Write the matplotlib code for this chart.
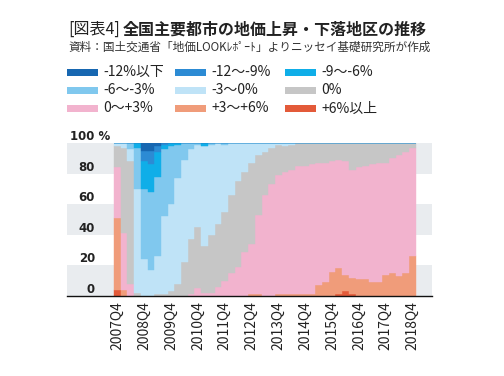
import matplotlib
matplotlib.use("Agg")
import matplotlib.pyplot as plt
from matplotlib.patches import Rectangle
import numpy as np

plt.rcParams['font.family'] = ['Noto Sans CJK JP', 'DejaVu Sans']

# quarters 2007Q4 .. 2018Q4
quarters = ["2007Q4"] + ["{}Q{}".format(y, q) for y in range(2008, 2019) for q in range(1, 5)]

# share of districts (%) per change class
up6 = [4, 0, 0, 0, 0, 0, 0, 0, 0, 0, 0, 0, 0, 0, 0, 0, 0, 0, 0, 0, 0, 0, 0,
       0, 0, 0, 0, 0, 0, 0, 0, 0, 0, 1.5, 3, 1.5, 0, 0, 0, 0, 0, 0, 0, 0, 0]
up3_6 = [47, 4, 0, 0, 0, 0, 0, 0, 0, 0, 0, 0, 0, 0, 0, 0, 0, 0, 0, 0, 1, 1, 0,
         0, 1, 1, 1, 1, 1, 1, 7, 9, 16, 16.5, 11, 10.5, 11, 11, 9, 9, 13.5, 15, 13, 15, 26]
up0_3 = [33, 37, 8, 0, 0, 0, 0, 0, 0, 0, 0, 1, 5, 2, 2, 6, 10, 15, 19, 29, 33, 52, 66,
         73, 78, 80, 81.5, 84, 84, 85, 80, 78, 72, 71, 74, 70.5, 73, 74, 77, 78, 73.5, 75, 79, 79, 71]
flat = [14, 56, 80, 2, 0, 0, 1, 1, 3, 8, 22, 36, 40, 31, 38, 41, 45, 51, 56, 52, 53, 39, 28,
        24, 19.5, 17, 16.5, 15, 15, 14, 13, 13, 12, 11, 12, 17.5, 16, 15, 14, 13, 13, 10, 8, 6, 3]
dn0_3 = [2, 3, 8, 68, 24, 17, 25, 51, 57, 69, 67, 59, 53.5, 65, 58.5, 53, 43.5, 34, 25, 19, 13, 8, 6,
         3, 1.5, 2, 1, 0, 0, 0, 0, 0, 0, 0, 0, 0, 0, 0, 0, 0, 0, 0, 0, 0, 0]
dn3_6 = [0, 0, 4, 27, 46, 51, 52, 44, 38, 22, 11, 4, 1.5, 0, 1.5, 0, 1.5, 0, 0, 0, 0, 0, 0,
         0, 0, 0, 0, 0, 0, 0, 0, 0, 0, 0, 0, 0, 0, 0, 0, 0, 0, 0, 0, 0, 0]
dn6_9 = [0, 0, 0, 3, 18, 18, 16, 3, 2, 1, 0, 0, 0, 2, 0, 0, 0, 0, 0, 0, 0, 0, 0,
         0, 0, 0, 0, 0, 0, 0, 0, 0, 0, 0, 0, 0, 0, 0, 0, 0, 0, 0, 0, 0, 0]
dn9_12 = [0, 0, 0, 0, 7, 9, 4, 1, 0, 0, 0, 0, 0, 0, 0, 0, 0, 0, 0, 0, 0, 0, 0,
          0, 0, 0, 0, 0, 0, 0, 0, 0, 0, 0, 0, 0, 0, 0, 0, 0, 0, 0, 0, 0, 0]
dn12 = [0, 0, 0, 0, 5, 5, 2, 0, 0, 0, 0, 0, 0, 0, 0, 0, 0, 0, 0, 0, 0, 0, 0,
        0, 0, 0, 0, 0, 0, 0, 0, 0, 0, 0, 0, 0, 0, 0, 0, 0, 0, 0, 0, 0, 0]

# legend order (top of stack first)
labels = ["-12%以下", "-12～-9%", "-9～-6%", "-6～-3%", "-3～0%", "0%", "0～+3%", "+3～+6%", "+6%以上"]
series = [dn12, dn9_12, dn6_9, dn3_6, dn0_3, flat, up0_3, up3_6, up6]
colors = ["#1767b1", "#2c8bd4", "#0faee8", "#80c8ee", "#bfe3f7",
          "#c6c6c6", "#f2b3ce", "#f09c7a", "#e35a39"]

W, H = 504, 376
fig = plt.figure(figsize=(W / 100, H / 100), dpi=100)
ax = fig.add_axes([67 / W, 1 - 296 / H, 365 / W, 153 / H])

# stacked bars, bottom class first
x = np.arange(len(quarters))
bottom = np.zeros(len(quarters))
for vals, color in zip(series[::-1], colors[::-1]):
    vals = np.array(vals, dtype=float)
    ax.bar(x, vals, width=1.0, bottom=bottom, color=color, edgecolor=color,
           linewidth=0.3, zorder=2)
    bottom += vals

ax.set_xlim(-7.5, 46.9)
ax.set_ylim(0, 100)

# alternating background bands
for lo in (0, 40, 80):
    ax.axhspan(lo, lo + 20, color="#e9ecef", zorder=0, lw=0)

for side in ("top", "left", "right"):
    ax.spines[side].set_visible(False)
ax.spines["bottom"].set_color("#111111")
ax.spines["bottom"].set_linewidth(1.0)
ax.spines["bottom"].set_zorder(3)

# y labels sit just above their gridline
ax.set_yticks([])
ytr = ax.get_yaxis_transform()
for v in range(0, 101, 20):
    if v == 100:
        ax.text(0.118, v, "100 %", transform=ytr, ha="right", va="bottom",
                fontsize=8.5, fontweight="bold", color="#222222", family="DejaVu Sans")
    else:
        ax.text(0.077, v, str(v), transform=ytr, ha="right", va="bottom",
                fontsize=8.5, fontweight="bold", color="#222222", family="DejaVu Sans")

ax.set_xticks(x[::4], quarters[::4], rotation=90, fontsize=10, color="#222222")
ax.tick_params(axis="x", length=0, pad=4)

# title: bracket part regular, rest bold
t1 = fig.text(68 / W, 1 - 29 / H, "[図表4]", fontsize=11.5, va="center", color="#222222")
ax.annotate("全国主要都市の地価上昇・下落地区の推移", xy=(1, 0), xycoords=t1,
            xytext=(2, 0), textcoords="offset points", va="bottom", ha="left",
            fontsize=11.5, fontweight="bold", color="#222222", annotation_clip=False)
fig.text(68 / W, 1 - 47.5 / H, "資料：国土交通省「地価LOOKﾚﾎﾟｰﾄ」よりニッセイ基礎研究所が作成",
         fontsize=8.4, va="center", color="#333333")

# legend, 3 columns x 3 rows
patch_x = [67, 175, 285]
text_x = [103, 211, 321]
row_y = [72, 90, 108.5]
for i, (lab, col) in enumerate(zip(labels, colors)):
    r, c = divmod(i, 3)
    yc = row_y[r]
    fig.add_artist(Rectangle((patch_x[c] / W, 1 - (yc + 3.5) / H), 31 / W, 7 / H,
                             transform=fig.transFigure, color=col, lw=0))
    fig.text(text_x[c] / W, 1 - yc / H, lab, fontsize=10, va="center", color="#222222")

fig.savefig("out.png", dpi=100)
